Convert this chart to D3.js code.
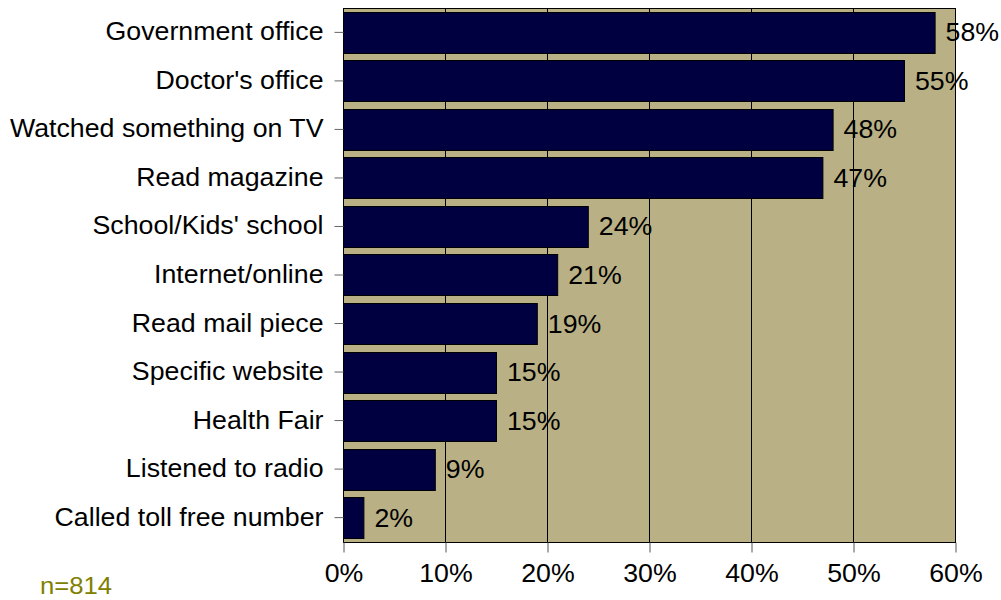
<!DOCTYPE html>
<html>
<head>
<meta charset="utf-8">
<script src="https://cdn.jsdelivr.net/npm/d3@7"></script>
<style>
  html, body { margin: 0; padding: 0; background: #ffffff; }
  svg { display: block; font-family: "Liberation Sans", Arial, sans-serif; }
</style>
</head>
<body>
<svg id="chart" width="1001" height="600"></svg>
<script>
// Where respondents heard about the program
const categories = [
  "Government office",
  "Doctor's office",
  "Watched something on TV",
  "Read magazine",
  "School/Kids' school",
  "Internet/online",
  "Read mail piece",
  "Specific website",
  "Health Fair",
  "Listened to radio",
  "Called toll free number"
];
const values = [58, 55, 48, 47, 24, 21, 19, 15, 15, 9, 2];
const xTicks = [0, 10, 20, 30, 40, 50, 60];
const sampleNote = "n=814";

const FONT_SIZE = 25;
const STRETCH = 1.07; // slightly wide lettering

const svg = d3.select("#chart");
const plot = { left: 343, top: 8, right: 955, bottom: 542 };

const x = d3.scaleLinear().domain([0, 60]).range([plot.left, plot.right]);
const y = d3.scaleBand()
  .domain(categories)
  .range([plot.top, plot.bottom])
  .paddingInner(0.155)
  .paddingOuter(0.08);

// Horizontally stretch a text element about its anchor x
function widen(sel) {
  sel.each(function () {
    const t = d3.select(this);
    const tx = +t.attr("x") || 0;
    t.attr("x", tx / STRETCH).attr("transform", `scale(${STRETCH},1)`);
  });
}

// Plot background
svg.append("rect")
  .attr("x", plot.left).attr("y", plot.top)
  .attr("width", plot.right - plot.left).attr("height", plot.bottom - plot.top)
  .attr("fill", "#b9b185");

// Vertical gridlines
svg.append("g")
  .selectAll("line")
  .data(xTicks.slice(1, -1))
  .join("line")
  .attr("x1", d => x(d) + 0.5).attr("x2", d => x(d) + 0.5)
  .attr("y1", plot.top).attr("y2", plot.bottom)
  .attr("stroke", "#000").attr("stroke-width", 1);

// Bars
svg.append("g")
  .selectAll("rect")
  .data(categories)
  .join("rect")
  .attr("x", x(0) + 0.5)
  .attr("y", d => Math.round(y(d)) + 0.5)
  .attr("width", (d, i) => x(values[i]) - x(0))
  .attr("height", Math.round(y.bandwidth()))
  .attr("fill", "#000040")
  .attr("stroke", "#000")
  .attr("stroke-width", 1);

// Value labels
svg.append("g")
  .selectAll("text")
  .data(categories)
  .join("text")
  .attr("x", (d, i) => x(values[i]) + 11)
  .attr("y", d => y(d) + y.bandwidth() / 2)
  .attr("dy", "0.36em")
  .attr("font-size", FONT_SIZE)
  .attr("fill", "#000")
  .text((d, i) => values[i] + "%")
  .call(widen);

// Plot frame
svg.append("rect")
  .attr("x", plot.left + 0.5).attr("y", plot.top + 0.5)
  .attr("width", plot.right - plot.left).attr("height", plot.bottom - plot.top)
  .attr("fill", "none").attr("stroke", "#000").attr("stroke-width", 1);

// Category axis
const yAxis = svg.append("g")
  .attr("transform", `translate(${plot.left + 0.5},0)`)
  .call(d3.axisLeft(y).tickSize(9).tickPadding(11));
yAxis.select(".domain").remove();
yAxis.selectAll(".tick line").attr("stroke", "#666");
yAxis.selectAll(".tick text")
  .attr("font-size", FONT_SIZE)
  .attr("font-family", "Liberation Sans, Arial, sans-serif")
  .attr("fill", "#000")
  .call(widen);

// Value axis
const xAxis = svg.append("g")
  .attr("transform", `translate(0.5,${plot.bottom + 0.5})`)
  .call(d3.axisBottom(x).tickValues(xTicks).tickFormat(d => d + "%").tickSize(10).tickPadding(12));
xAxis.select(".domain").remove();
xAxis.selectAll(".tick line").attr("stroke", "#555");
xAxis.selectAll(".tick text")
  .attr("font-size", FONT_SIZE)
  .attr("font-family", "Liberation Sans, Arial, sans-serif")
  .attr("fill", "#000")
  .call(widen);

// Sample size note
svg.append("text")
  .attr("x", 40).attr("y", 594)
  .attr("font-size", 24)
  .attr("fill", "#808000")
  .text(sampleNote)
  .call(widen);
</script>
</body>
</html>
